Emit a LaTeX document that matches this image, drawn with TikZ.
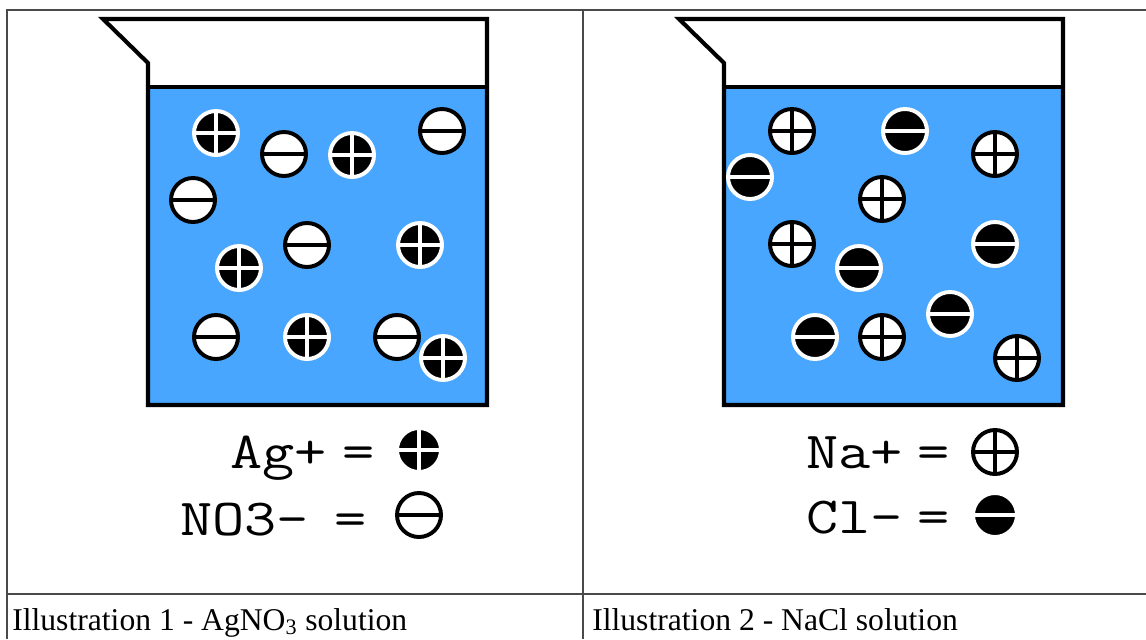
\documentclass[tikz,border=0pt]{standalone}
\usepackage{fontspec}
\setmainfont{Liberation Serif}
\newfontfamily\keyfont{Latin Modern Mono}[FakeStretch=1.2]
\usepackage{xcolor}
\usepackage{tikz}
\definecolor{water}{HTML}{48A6FF}
\definecolor{rule}{HTML}{4A4A4A}
\tikzset{
  beaker/.style={draw=black, line width=2.9pt, line join=miter},
  waterfill/.style={fill=water, draw=none},
  tablerule/.style={draw=rule, line width=1pt},
  ionring/.style={line width=2.8pt},
  ionbar/.style={line width=2.5pt},
  key/.style={font=\keyfont\fontsize{37}{37}\selectfont, inner sep=0pt, anchor=base west},
  caption/.style={font=\fontsize{22.5}{27}\selectfont, inner sep=0pt, anchor=base west}
}
% ion symbols, drawn at a coordinate given as x,y
\newcommand{\agion}[1]{%
  \filldraw[ionring, fill=black, draw=white] (#1) circle (22);
  \draw[ionbar, white] (#1) ++(-20,0) -- ++(40,0) (#1) ++(0,-20) -- ++(0,40);}
\newcommand{\noion}[1]{%
  \filldraw[ionring, fill=white, draw=black] (#1) circle (22);
  \draw[ionbar, black] (#1) ++(-20,0) -- ++(40,0);}
\newcommand{\naion}[1]{%
  \filldraw[ionring, fill=white, draw=black] (#1) circle (22);
  \draw[ionbar, black] (#1) ++(-20,0) -- ++(40,0) (#1) ++(0,-20) -- ++(0,40);}
\newcommand{\clion}[1]{%
  \filldraw[ionring, fill=black, draw=white] (#1) circle (22);
  \draw[ionbar, white] (#1) ++(-20,0) -- ++(40,0);}

\begin{document}
\begin{tikzpicture}[x=0.025cm, y=-0.025cm]
  \useasboundingbox (0,0) rectangle (1146,639);

  % table rules
  \draw[tablerule] (7,639) -- (7,10) -- (1146,10);
  \draw[tablerule] (583,10) -- (583,639);
  \draw[tablerule] (7,594) -- (1146,594);

  % left beaker
  \fill[waterfill] (148,87) rectangle (487,405);
  \draw[beaker] (103,19) -- (148,63) -- (148,405) -- (487,405) -- (487,19) -- cycle;
  \draw[beaker] (148,87) -- (487,87);

  % right beaker
  \fill[waterfill] (724,87) rectangle (1063,405);
  \draw[beaker] (679,19) -- (724,63) -- (724,405) -- (1063,405) -- (1063,19) -- cycle;
  \draw[beaker] (724,87) -- (1063,87);

  % silver nitrate ions
  \agion{216,133}
  \noion{284,154}
  \agion{352,155}
  \noion{442,131}
  \noion{193,200}
  \noion{307,245}
  \agion{420,245}
  \agion{239,268}
  \noion{216,337}
  \agion{307,337}
  \noion{397,337}
  \agion{443,358}

  % sodium chloride ions
  \naion{792,131}
  \clion{905,131}
  \clion{750,177}
  \naion{995,154}
  \naion{882,199}
  \naion{792,244}
  \clion{995,244}
  \clion{859,268}
  \clion{950,314}
  \clion{815,337}
  \naion{882,337}
  \naion{1017,358}

  % keys
  \node[key] (agtxt) at (230,468) {Ag+};
  \node[key] (ageq) at (342,468) {=};
  \agion{419,450}
  \node[key] (notxt) at (180,535) {NO3-};
  \node[key] (noeq) at (334,535) {=};
  \noion{419,515}
  \node[key] (natxt) at (806,468) {Na+};
  \node[key] (naeq) at (917,468) {=};
  \naion{995,452}
  \node[key] (cltxt) at (806,533) {Cl-};
  \node[key] (cleq) at (917,533) {=};
  \clion{995,515}

  % captions
  \node[caption] (capA) at (12,630) {Illustration 1 - AgNO\textsubscript{3} solution};
  \node[caption] (capB) at (592,630) {Illustration 2 - NaCl solution};
\end{tikzpicture}
\end{document}
